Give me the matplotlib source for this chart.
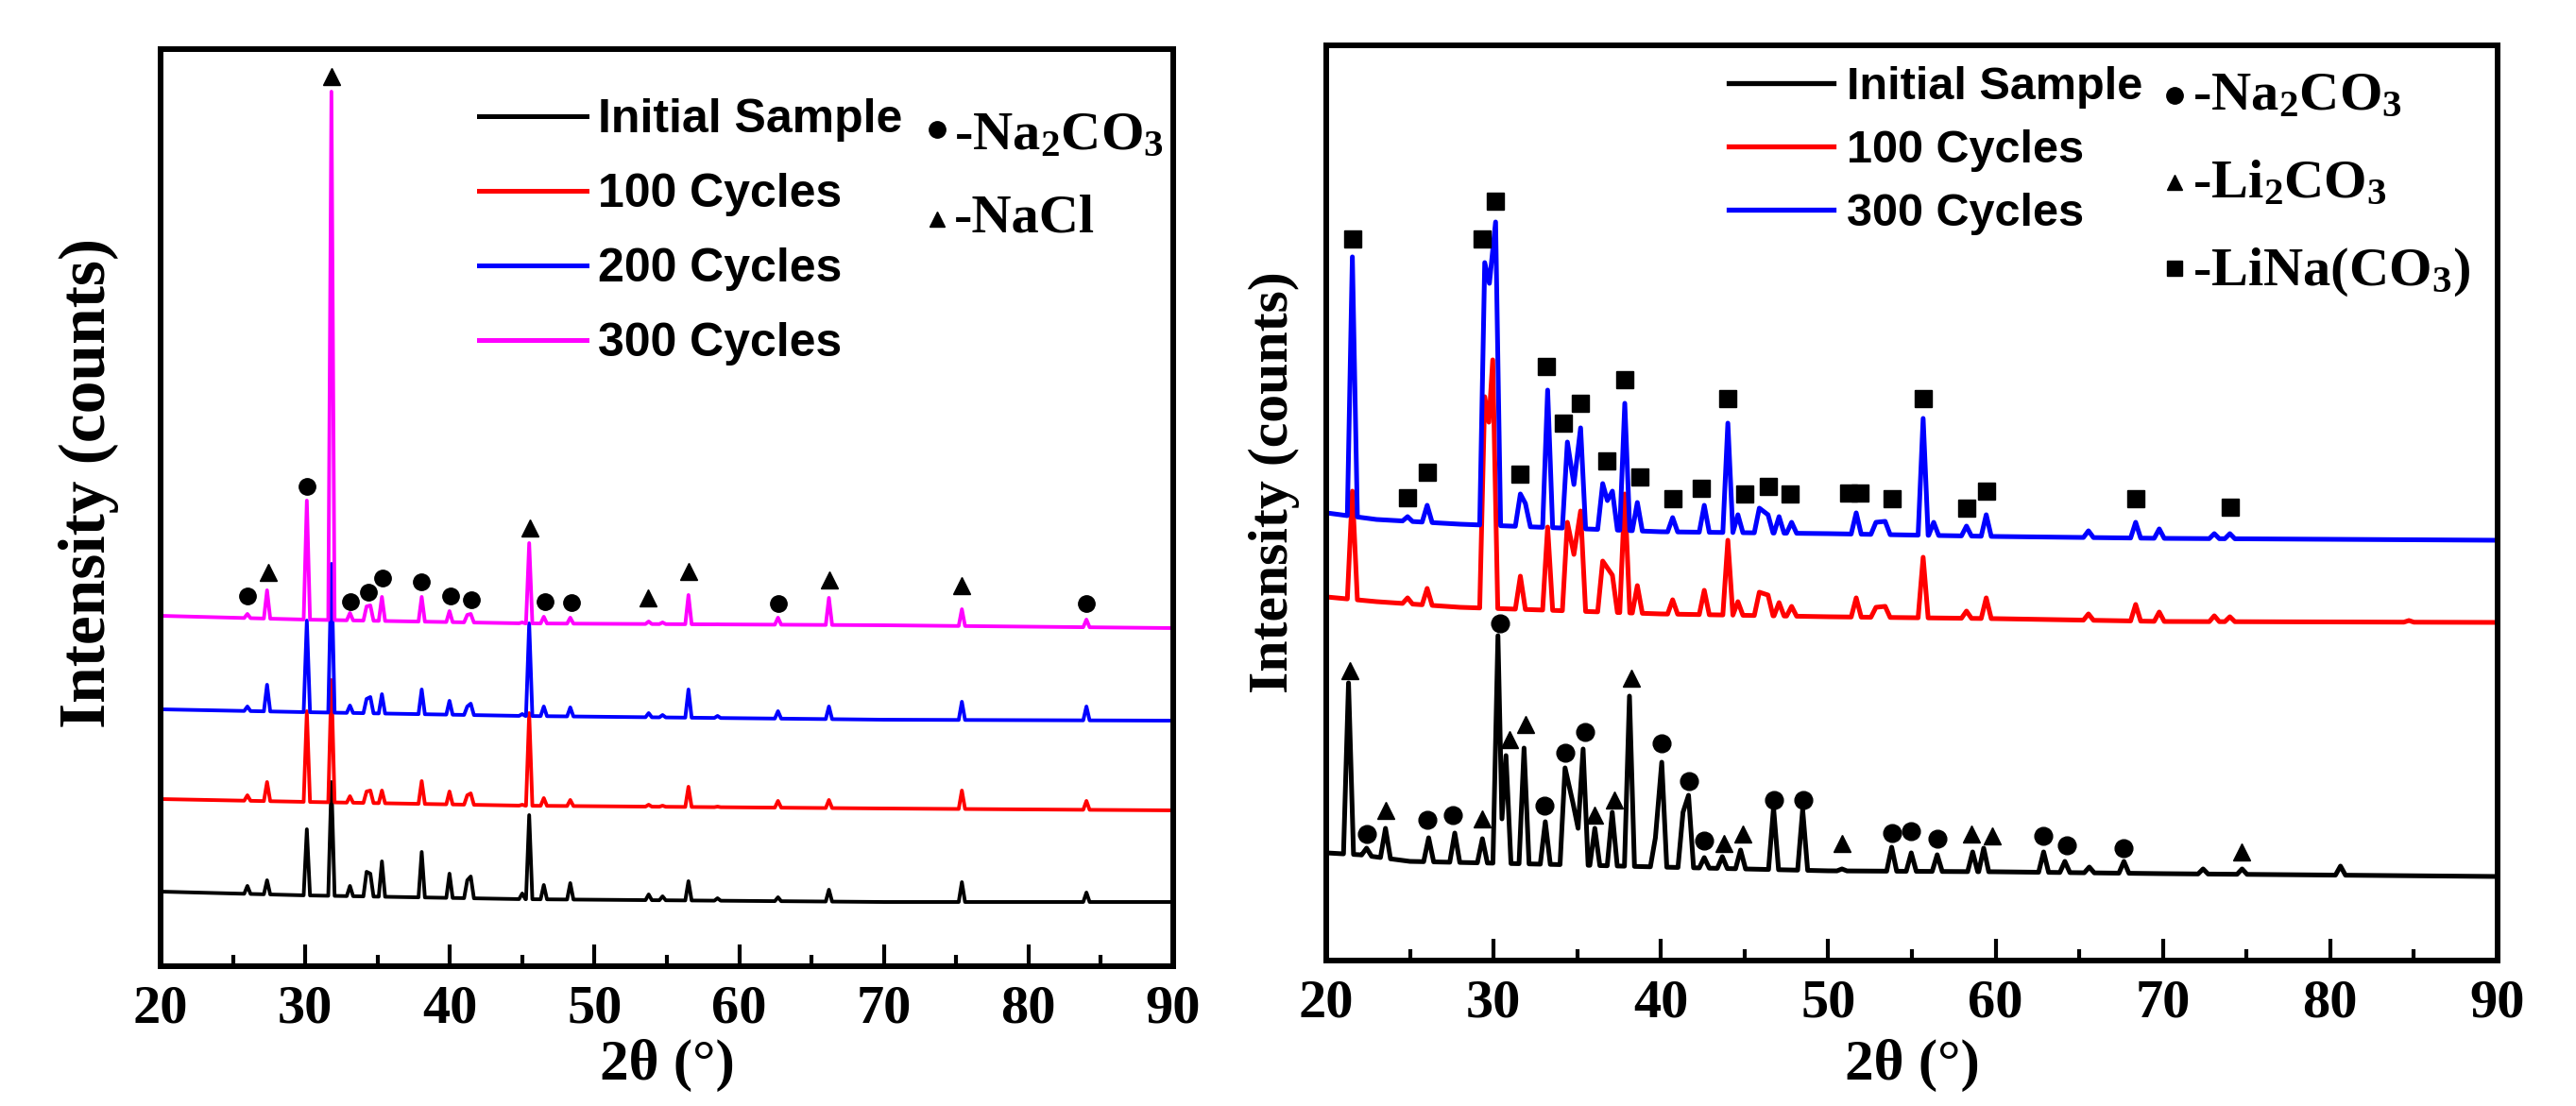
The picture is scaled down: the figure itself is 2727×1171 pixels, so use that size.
import numpy as np
import matplotlib
matplotlib.use("Agg")
import matplotlib.pyplot as plt
from matplotlib.lines import Line2D
from matplotlib.font_manager import FontProperties

W, H, DPI = 2727, 1171, 100

# ---------------- data: left panel ----------------
left_labels = ["Initial Sample", "100 Cycles", "200 Cycles", "300 Cycles"]
left_colors = ["#000000", "#FF0000", "#0000FF", "#FF00FF"]
left_peak_pos = [26.0, 27.36, 30.11, 31.81, 33.09, 34.24, 34.5, 35.3, 38.05, 39.97, 41.2, 41.44,
                 45.0, 45.48, 46.49, 48.32, 53.74, 54.7, 56.49, 58.5, 62.68, 66.2, 75.39, 84.0]
left_init_peaks = [85, 91, 145, 195, 85, 100, 98, 111, 121, 98, 91, 95,
                   77, 160, 86, 88, 76, 74, 90, 72, 73, 81, 89, 78]
left_c100_peaks = [181, 195, 270, 303, 180, 185, 186, 186, 196, 185, 181, 183,
                   171, 268, 178, 176, 171, 170, 190, 169, 175, 176, 186, 175]
left_c200_peaks = [275, 298, 366, 426, 276, 283, 285, 288, 293, 281, 275, 278,
                   267, 363, 275, 274, 268, 266, 293, 265, 270, 275, 280, 275]
left_c300_peaks = [373, 398, 493, 926, 374, 381, 382, 391, 391, 376, 372, 373,
                   364, 448, 370, 369, 365, 364, 393, 362, 369, 390, 378, 367]
left_base_pos = [20, 30, 45, 70, 90]
left_init_base = [79, 75, 71, 68, 68]
left_c100_base = [177, 174, 170, 167, 165]
left_c200_base = [272, 269, 265, 261, 260]
left_c300_base = [371, 367, 363, 361, 358]

left_na2co3_x = [26.01, 30.13, 33.11, 34.36, 35.33, 38.04, 40.05, 41.46, 46.55, 48.39, 62.69, 83.99]
left_na2co3_y = [392, 508, 386, 396, 411, 407, 392, 388, 386, 385, 384, 384]
left_nacl_x = [27.42, 31.81, 45.52, 53.7, 56.52, 66.2, 75.37]
left_nacl_y = [417, 942, 464, 390, 418, 409, 403]

# ---------------- data: right panel ----------------
right_labels = ["Initial Sample", "100 Cycles", "300 Cycles"]
right_colors = ["#000000", "#FF0000", "#0000FF"]

right_init_x = [21.33, 22.41, 23.54, 26.12, 27.68, 29.33, 30.26, 30.5, 30.74, 31.82, 33.09, 34.27,
                34.74, 35.05, 35.35, 36.05, 37.09, 38.12, 39.67, 40.05, 41.32, 41.65, 42.59, 43.67,
                44.76, 46.73, 48.47, 50.82, 53.79, 54.96, 56.51, 58.63, 59.29, 62.87, 64.14, 65.6,
                67.67, 72.4, 74.73, 80.61]
right_init_y = [294, 119, 140, 130, 135, 129, 344, 150, 217, 225, 147, 204,
                167, 140, 224, 140, 157, 280, 130, 210, 157, 175, 109, 110,
                117, 162, 160, 97, 120, 114, 112, 115, 119, 115, 105, 99,
                105, 97, 97, 100]
right_init_base_pos = [20, 22, 25, 33, 40, 50, 60, 70, 90]
right_init_base = [114, 112, 105, 102, 99, 95, 94, 92, 89]

right_c100_x = [21.56, 24.86, 26.03, 29.47, 29.72, 29.95, 31.6, 33.23, 34.41, 34.8, 35.2, 36.52,
                37.1, 37.84, 38.59, 40.7, 42.59, 44.0, 44.6, 45.88, 46.4, 47.06, 47.81, 51.67,
                52.85, 53.4, 55.67, 58.26, 59.44, 65.55, 68.37, 69.78, 73.07, 74.0, 84.7]
right_c100_y = [497, 384, 394, 597, 570, 636, 407, 459, 464, 430, 476, 423,
                408, 494, 397, 382, 392, 445, 380, 390, 387, 379, 375, 384,
                374, 375, 427, 370, 384, 367, 377, 369, 365, 364, 360]
right_c300_x = [21.56, 24.86, 26.03, 29.47, 29.75, 30.12, 31.6, 31.9, 33.23, 34.41, 34.8, 35.2,
                36.52, 36.8, 37.1, 37.84, 38.59, 40.7, 42.59, 44.0, 44.6, 45.88, 46.4, 47.06,
                47.81, 51.67, 52.85, 53.4, 55.67, 56.3, 58.26, 59.44, 65.55, 68.37, 69.78, 73.07, 74.0]
right_c300_y = [745, 470, 482, 739, 717, 782, 494, 484, 604, 549, 504, 564,
                505, 487, 497, 590, 485, 469, 482, 569, 472, 479, 472, 470,
                464, 474, 464, 465, 574, 464, 460, 472, 455, 464, 457, 452, 452]
right_cyc_base_pos = [20, 23, 28, 40, 50, 60, 70, 90]
right_c100_base = [385, 380, 374, 367, 364, 362, 359, 358]
right_c300_base = [474, 467, 462, 454, 452, 449, 447, 445]

right_na2co3_x = [22.41, 26.03, 27.58, 30.36, 33.04, 34.26, 35.44, 40.05, 41.65, 42.59, 46.73, 48.52,
                  53.79, 54.96, 56.51, 62.87, 64.23, 67.67]
right_na2co3_y = [134, 149, 154, 357, 164, 220, 242, 230, 190, 127, 170, 170,
                  135, 137, 129, 132, 122, 119]
right_li2co3_x = [21.42, 23.54, 29.32, 30.97, 31.91, 36.05, 37.23, 38.26, 43.76, 44.9, 50.82, 58.58, 59.81, 74.72]
right_li2co3_y = [307, 159, 150, 234, 250, 154, 170, 299, 124, 134, 124, 134, 132, 115]
right_lina_x = [21.56, 24.86, 26.03, 29.33, 30.12, 31.58, 33.18, 34.17, 35.2, 36.76, 37.84, 38.73,
                40.71, 42.4, 44.0, 44.99, 46.4, 47.72, 51.2, 51.9, 53.79, 55.67, 58.26, 59.44, 68.37, 74.01]
right_lina_y = [764, 490, 517, 764, 804, 515, 629, 569, 590, 529, 615, 512,
                489, 500, 595, 494, 502, 494, 495, 495, 489, 595, 479, 497, 489, 480]

xticks = [20, 30, 40, 50, 60, 70, 80, 90]

# ---------------- style ----------------
plt.rcParams['font.family'] = ['Liberation Serif', 'DejaVu Serif']
plt.rcParams['font.weight'] = 'bold'
plt.rcParams['axes.labelweight'] = 'bold'
plt.rcParams['mathtext.default'] = 'regular'
SANS = ['Liberation Sans', 'DejaVu Sans']


def profile(px, py, bx, by, hw):
    """Polyline through read peak tops, dropping to the read baseline between peaks."""
    px = np.asarray(px, float)
    py = np.asarray(py, float)
    n = len(px)
    xs, ys, spans = [], [], []
    start = None
    for i in range(n):
        left_open = i == 0 or px[i] - px[i - 1] > 2 * hw
        right_open = i == n - 1 or px[i + 1] - px[i] > 2 * hw
        if left_open:
            start = px[i] - hw
            xs.append(start); ys.append(np.interp(start, bx, by))
        xs.append(px[i]); ys.append(py[i])
        if right_open:
            end = px[i] + hw
            xs.append(end); ys.append(np.interp(end, bx, by))
            spans.append((start, end))
    for x, y in zip(bx, by):
        if not any(a <= x <= b for a, b in spans):
            xs.append(x); ys.append(y)
    order = np.argsort(xs, kind='stable')
    return np.asarray(xs)[order], np.asarray(ys)[order]


fig = plt.figure(figsize=(W / DPI, H / DPI), dpi=DPI)


def rect(x0, y0, x1, y1):
    return [x0 / W, 1 - y1 / H, (x1 - x0) / W, (y1 - y0) / H]


axL = fig.add_axes(rect(170, 52, 1242, 1023))
axR = fig.add_axes(rect(1404, 48, 2644, 1017))


def style(ax, ytop):
    ax.set_xlim(20, 90)
    ax.set_ylim(0, ytop)
    ax.set_xticks(xticks)
    ax.set_xticks([25, 35, 45, 55, 65, 75, 85], minor=True)
    ax.set_yticks([])
    ax.tick_params(axis='x', which='both', direction='in', top=False, width=3.0,
                   pad=14, labelsize=42)
    ax.tick_params(axis='x', which='major', length=16.5)
    ax.tick_params(axis='x', which='minor', length=8.6)
    for s in ax.spines.values():
        s.set_linewidth(4.3)


style(axL, 971)
style(axR, 969)

# left panel curves
left_sets = [(left_init_peaks, left_init_base), (left_c100_peaks, left_c100_base),
             (left_c200_peaks, left_c200_base), (left_c300_peaks, left_c300_base)]
handlesL = []
for (pk, bs), lab, col in zip(left_sets, left_labels, left_colors):
    x, y = profile(left_peak_pos, pk, left_base_pos, bs, 0.22)
    axL.plot(x, y, color=col, lw=2.8, label=lab)
    handlesL.append(Line2D([], [], color=col, lw=3.6))
axL.plot(left_na2co3_x, left_na2co3_y, 'o', color='k', ms=12.5, ls='none')
axL.plot(left_nacl_x, left_nacl_y, '^', color='k', ms=13, ls='none')

# right panel curves
right_sets = [(right_init_x, right_init_y, right_init_base_pos, right_init_base),
              (right_c100_x, right_c100_y, right_cyc_base_pos, right_c100_base),
              (right_c300_x, right_c300_y, right_cyc_base_pos, right_c300_base)]
handlesR = []
for (px, py, bx, by), lab, col in zip(right_sets, right_labels, right_colors):
    x, y = profile(px, py, bx, by, 0.3)
    axR.plot(x, y, color=col, lw=3.6, label=lab)
    handlesR.append(Line2D([], [], color=col, lw=3.8))
axR.plot(right_na2co3_x, right_na2co3_y, 'o', color='k', ms=13.5, ls='none')
axR.plot(right_li2co3_x, right_li2co3_y, '^', color='k', ms=13.5, ls='none')
axR.plot(right_lina_x, right_lina_y, 's', color='k', ms=12.5, ls='none')

# axis labels
axL.set_xlabel('2θ (°)', fontsize=44)
axL.xaxis.set_label_coords(0.5, -0.0793)
axR.set_xlabel('2θ (°)', fontsize=44)
axR.xaxis.set_label_coords(0.5, -0.0857)
axL.set_ylabel('Intensity (counts)', fontsize=50)
axL.yaxis.set_label_coords(-0.041, 0.527)
axR.set_ylabel('Intensity (counts)', fontsize=43)
axR.yaxis.set_label_coords(-0.0225, 0.523)

# line legends
propL = FontProperties(family=SANS, weight='bold', size=36)
axL.legend(handlesL, left_labels, loc='upper left', bbox_to_anchor=(507 / W, 1 - 104 / H),
           bbox_transform=fig.transFigure, frameon=False, borderpad=0, borderaxespad=0,
           handlelength=2.28, handletextpad=0.24, labelspacing=0.66, prop=propL)
propR = FontProperties(family=SANS, weight='bold', size=35)
axR.legend(handlesR, right_labels, loc='upper left', bbox_to_anchor=(1830 / W, 1 - 70 / H),
           bbox_transform=fig.transFigure, frameon=False, borderpad=0, borderaxespad=0,
           handlelength=2.28, handletextpad=0.29, labelspacing=0.45, prop=propR)

# phase keys
def key(mx, my, marker, ms, tx, tb, label):
    fig.add_artist(Line2D([mx / W], [1 - my / H], transform=fig.transFigure, marker=marker,
                          ms=ms, color='k', ls='none'))
    fig.text(tx / W, 1 - tb / H, label, fontsize=42, fontweight='bold', va='baseline', ha='left')


key(992, 137, 'o', 12.5, 1010, 158, '-Na$_2$CO$_3$')
key(992, 232, '^', 12, 1010, 246, '-NaCl')
key(2302, 101, 'o', 12.5, 2321, 116, '-Na$_2$CO$_3$')
key(2302, 193, '^', 12, 2321, 209, '-Li$_2$CO$_3$')
key(2302, 284, 's', 11.5, 2321, 302, '-LiNa(CO$_3$)')

fig.savefig('out.png', dpi=DPI)
